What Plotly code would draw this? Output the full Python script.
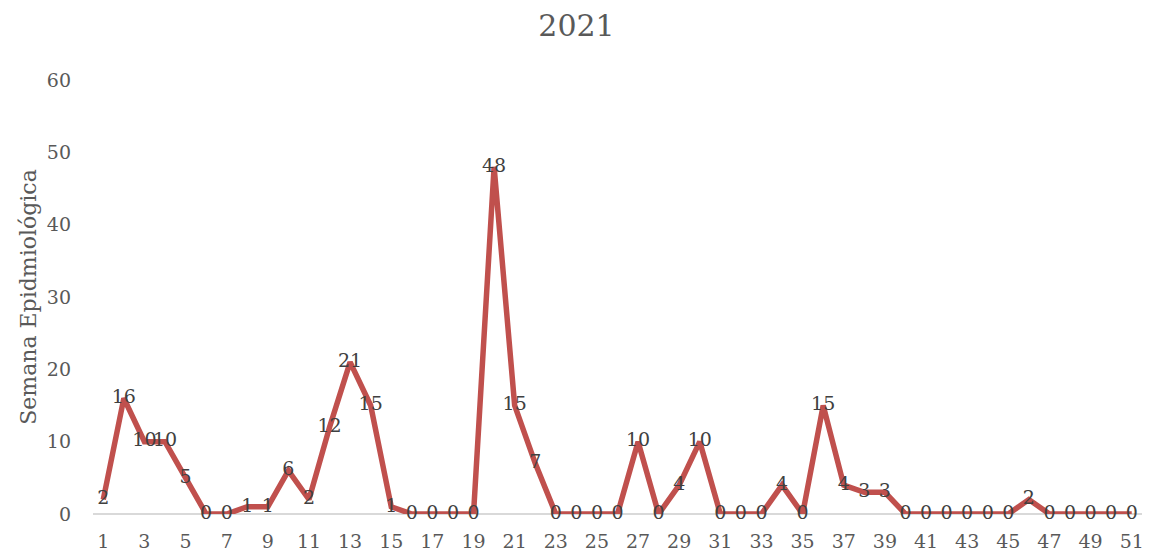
import plotly.graph_objects as go

weeks = list(range(1, 52))
cases = [2, 16, 10, 10, 5, 0, 0, 1, 1, 6, 2, 12, 21, 15, 1, 0, 0, 0, 0, 48,
         15, 7, 0, 0, 0, 0, 10, 0, 4, 10, 0, 0, 0, 4, 0, 15, 4, 3, 3, 0,
         0, 0, 0, 0, 0, 2, 0, 0, 0, 0, 0]
tick_vals = list(range(1, 52, 2))
title = "2021"
y_title = "Semana Epidmiológica"

FONT = "DejaVu Serif"

fig = go.Figure()
fig.add_trace(go.Scatter(
    x=weeks, y=cases, mode="lines+text",
    line=dict(color="#C0504D", width=5.5),
    text=[str(v) for v in cases], textposition="middle center",
    textfont=dict(family=FONT, size=19, color="#404040"),
    cliponaxis=False, showlegend=False,
))

fig.update_layout(
    width=1153, height=558,
    margin=dict(l=93, r=11, t=80, b=44),
    paper_bgcolor="white", plot_bgcolor="white",
    title=dict(text=title, x=0.5, xanchor="center", y=0.955, yanchor="middle",
               font=dict(family=FONT, size=30, color="#595959")),
    xaxis=dict(range=[0.5, 51.5], tickmode="array", tickvals=tick_vals,
               ticktext=[str(t) for t in tick_vals], automargin=False,
               showgrid=False, zeroline=False, showline=False, ticks="",
               ticklabelstandoff=14,
               tickfont=dict(family=FONT, size=19, color="#595959")),
    yaxis=dict(range=[0, 60], dtick=10, showgrid=False, zeroline=True,
               automargin=False,
               zerolinecolor="#D9D9D9", zerolinewidth=2, showline=False, ticks="",
               ticklabelstandoff=21,
               tickfont=dict(family=FONT, size=19, color="#595959"),
               title=dict(text=y_title, standoff=4,
                          font=dict(family=FONT, size=22, color="#595959"))),
)

fig.write_html("out.html")
